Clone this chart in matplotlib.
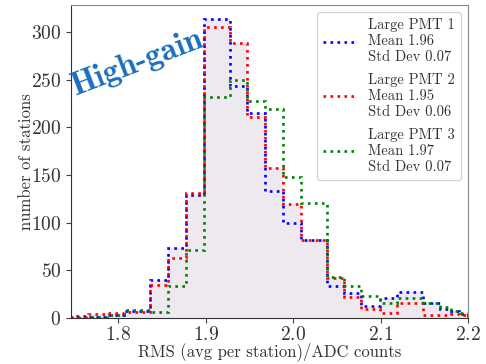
import numpy as np
import matplotlib
matplotlib.use("Agg")
import matplotlib.pyplot as plt

plt.rcParams['font.family'] = 'serif'
plt.rcParams['font.serif'] = ['cmr10']
plt.rcParams['mathtext.fontset'] = 'cm'
plt.rcParams['axes.formatter.use_mathtext'] = True

# bin edges (RMS, ADC counts)
edges = [1.746, 1.766, 1.787, 1.807, 1.836, 1.857, 1.877, 1.898, 1.928,
         1.947, 1.968, 1.989, 2.009, 2.039, 2.058, 2.078, 2.099, 2.119,
         2.149, 2.168, 2.18, 2.19, 2.2]

# station counts per bin
pmt1 = [2, 1, 3, 8, 40, 73, 129, 313, 243, 215, 133, 100, 82, 34, 26, 13,
        21, 27, 16, 10, 7, 4]
pmt2 = [1, 4, 5, 6, 35, 63, 131, 305, 288, 211, 157, 120, 82, 42, 22, 10,
        5, 16, 3, 3, 4, 3]
pmt3 = [0, 1, 3, 9, 6, 34, 71, 232, 250, 228, 219, 148, 121, 43, 34, 23,
        16, 21, 16, 12, 8, 5]

labels = ["Large PMT 1\nMean 1.96\nStd Dev 0.07",
          "Large PMT 2\nMean 1.95\nStd Dev 0.06",
          "Large PMT 3\nMean 1.97\nStd Dev 0.07"]
colors = ['blue', 'red', 'green']

fig = plt.figure(figsize=(4.86, 3.64), dpi=100)
ax = fig.add_axes([0.146, 0.126, 0.817, 0.860])

# light shading under the histograms
ax.stairs(pmt2, edges, fill=True, color='#eee8ef', zorder=1)
ax.stairs(pmt1, edges, fill=True, color='#eee8ef', zorder=1)

for counts, col, lab in zip([pmt1, pmt2, pmt3], colors, labels):
    ax.stairs(counts, edges, color=col, linestyle=':', linewidth=1.9,
              label=lab, zorder=2)

ax.set_xlim(1.746, 2.2)
ax.set_ylim(0, 328)
ax.set_xticks([1.8, 1.9, 2.0, 2.1, 2.2])
ax.set_yticks([0, 50, 100, 150, 200, 250, 300])
ax.tick_params(labelsize=14, colors='#444444', labelcolor='#333333')
ax.tick_params(axis='x', pad=2)
ax.set_xlabel("RMS (avg per station)/ADC counts", fontsize=12,
              color='#333333', labelpad=-1)
ax.set_ylabel("number of stations", fontsize=12, color='#333333',
              labelpad=-2)

for side in ['top', 'right']:
    ax.spines[side].set_color('#888888')
for side in ['left', 'bottom']:
    ax.spines[side].set_color('#333333')

ax.text(0.168, 0.815, "High-gain", transform=ax.transAxes, rotation=21,
        fontsize=23.5, family='cmb10', color='#1a6fbd',
        ha='center', va='center')

leg = ax.legend(loc='upper right', fontsize=10.5, handlelength=2.2,
                handletextpad=0.9, labelspacing=0.6)
for t in leg.get_texts():
    t.set_multialignment('left')
    t.set_linespacing(1.22)
    t.set_color('#333333')

fig.savefig("out.png", dpi=100)
